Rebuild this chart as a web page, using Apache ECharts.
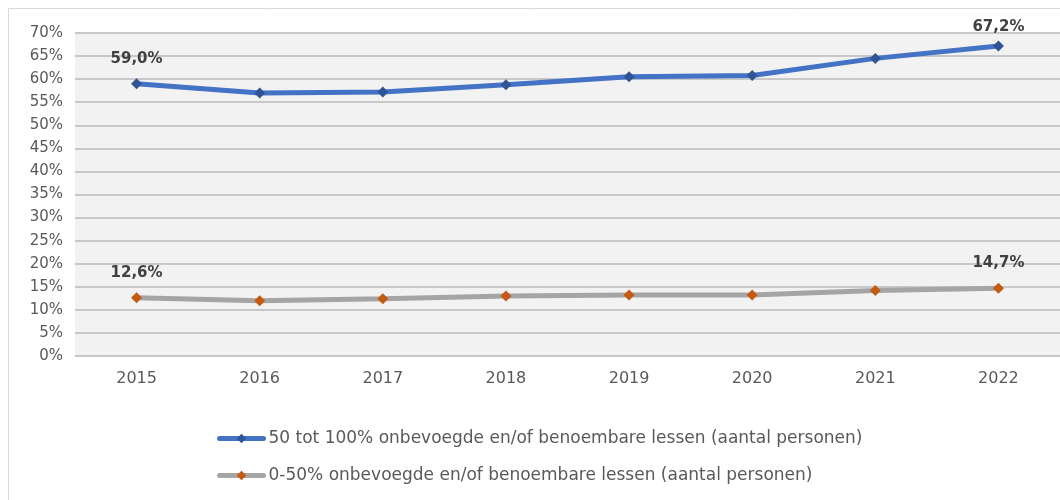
<!DOCTYPE html>
<html>
<head>
<meta charset="utf-8">
<script src="https://cdn.jsdelivr.net/npm/echarts@6/dist/echarts.min.js"></script>
<style>
	html, body { margin: 0; padding: 0; background: #fff; }
	#chart { width: 1060px; height: 500px; }
</style>
</head>
<body>
<div id="chart"></div>
<script>
//data
const years = ['2015', '2016', '2017', '2018', '2019', '2020', '2021', '2022'];
const high = [59.0, 57.0, 57.2, 58.8, 60.5, 60.8, 64.5, 67.2];
const low = [12.6, 12.0, 12.4, 13.0, 13.2, 13.2, 14.2, 14.7];
const highName = '50 tot 100% onbevoegde en/of benoembare lessen (aantal personen)';
const lowName = '0-50% onbevoegde en/of benoembare lessen (aantal personen)';

const FONT = 'DejaVu Sans',
	TEXT = '#595959',
	LABEL = '#404040',
	GRID_LINE = '#c8c8c8';

var chart = echarts.init(document.getElementById('chart'));

function pct(v) {
	return v.toFixed(1).replace('.', ',') + '%';
}

// only the first and last point carry a label
function withEndLabels(values, lastDistance) {
	var last = values.length - 1;
	return values.map((v, i) => ({
		value: v,
		label: i === last ? { show: true, distance: lastDistance } : { show: i === 0 }
	}));
}

function lineSeries(name, values, lineColor, markerColor, lastDistance) {
	return {
		name: name,
		type: 'line',
		data: withEndLabels(values, lastDistance),
		symbol: 'diamond',
		symbolSize: 11,
		lineStyle: { color: lineColor, width: 5 },
		itemStyle: { color: markerColor },
		label: {
			position: 'top', distance: 12,
			fontFamily: FONT, fontSize: 15, fontWeight: 'bold', color: LABEL,
			formatter: p => pct(p.value)
		},
		z: 3
	};
}

chart.setOption({
	animation: false,
	textStyle: { fontFamily: FONT },
	graphic: [{
		type: 'rect', left: 8, top: 8, z: -10, silent: true,
		shape: { width: 1060, height: 500 },
		style: { fill: '#fff', stroke: '#d9d9d9', lineWidth: 1 }
	}],
	grid: {
		left: 75, top: 33, width: 987, height: 323,
		show: true, backgroundColor: '#f2f2f2', borderWidth: 0
	},
	xAxis: {
		type: 'category', data: years, boundaryGap: true,
		axisLine: { show: false }, axisTick: { show: false },
		axisLabel: { color: TEXT, fontSize: 16, margin: 15, fontFamily: FONT }
	},
	yAxis: {
		type: 'value', min: 0, max: 70, interval: 5,
		axisLine: { show: false }, axisTick: { show: false },
		axisLabel: { color: TEXT, fontSize: 15, margin: 12, fontFamily: FONT, formatter: '{value}%' },
		splitLine: { lineStyle: { color: GRID_LINE, width: 2 } }
	},
	legend: {
		orient: 'vertical', left: 212, top: 425, itemGap: 20,
		itemWidth: 44, itemHeight: 12,
		lineStyle: { width: 5, cap: 'round' },
		textStyle: { color: TEXT, fontSize: 17, fontFamily: FONT },
		data: [highName, lowName]
	},
	series: [
		lineSeries(highName, high, '#4472c4', '#2f5597', 6),
		lineSeries(lowName, low, '#a5a5a5', '#c55a11', 12)
	]
});
</script>
</body>
</html>
